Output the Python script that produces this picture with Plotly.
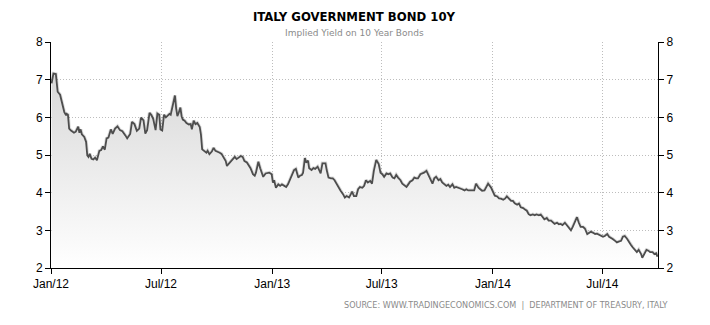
import plotly.graph_objects as go

# ---- data ----
dates = [
    "2012-01-02", "2012-01-05", "2012-01-09", "2012-01-12", "2012-01-16", "2012-01-19", "2012-01-21",
    "2012-01-23", "2012-01-26", "2012-01-27", "2012-01-29", "2012-01-31", "2012-02-03", "2012-02-08",
    "2012-02-11", "2012-02-15", "2012-02-17", "2012-02-19", "2012-02-21", "2012-02-25", "2012-02-28",
    "2012-03-01", "2012-03-03", "2012-03-05", "2012-03-08", "2012-03-11", "2012-03-14", "2012-03-17",
    "2012-03-21", "2012-03-24", "2012-03-27", "2012-03-30", "2012-04-02", "2012-04-05", "2012-04-09",
    "2012-04-12", "2012-04-16", "2012-04-20", "2012-04-24", "2012-04-28", "2012-05-03", "2012-05-06",
    "2012-05-11", "2012-05-14", "2012-05-18", "2012-05-22", "2012-05-26", "2012-05-29", "2012-06-02",
    "2012-06-05", "2012-06-08", "2012-06-12", "2012-06-15", "2012-06-18", "2012-06-22", "2012-06-25",
    "2012-06-28", "2012-06-30", "2012-07-03", "2012-07-06", "2012-07-09", "2012-07-12", "2012-07-15",
    "2012-07-17", "2012-07-20", "2012-07-24", "2012-07-26", "2012-07-28", "2012-07-30", "2012-08-02",
    "2012-08-04", "2012-08-06", "2012-08-09", "2012-08-12", "2012-08-16", "2012-08-19", "2012-08-21",
    "2012-08-24", "2012-08-27", "2012-08-30", "2012-09-03", "2012-09-05", "2012-09-07", "2012-09-10",
    "2012-09-14", "2012-09-16", "2012-09-19", "2012-09-23", "2012-09-26", "2012-09-29", "2012-10-03",
    "2012-10-06", "2012-10-09", "2012-10-12", "2012-10-16", "2012-10-18", "2012-10-21", "2012-10-25",
    "2012-10-28", "2012-10-31", "2012-11-03", "2012-11-07", "2012-11-10", "2012-11-13", "2012-11-16",
    "2012-11-20", "2012-11-23", "2012-11-26", "2012-11-30", "2012-12-03", "2012-12-05", "2012-12-09",
    "2012-12-12", "2012-12-15", "2012-12-17", "2012-12-21", "2012-12-24", "2012-12-27", "2012-12-31",
    "2013-01-02", "2013-01-04", "2013-01-07", "2013-01-11", "2013-01-14", "2013-01-17", "2013-01-21",
    "2013-01-24", "2013-01-27", "2013-01-31", "2013-02-03", "2013-02-06", "2013-02-09", "2013-02-13",
    "2013-02-16", "2013-02-19", "2013-02-21", "2013-02-24", "2013-02-26", "2013-03-01", "2013-03-03",
    "2013-03-07", "2013-03-10", "2013-03-13", "2013-03-17", "2013-03-19", "2013-03-22", "2013-03-25",
    "2013-03-30", "2013-04-01", "2013-04-04", "2013-04-08", "2013-04-11", "2013-04-14", "2013-04-18",
    "2013-04-21", "2013-04-24", "2013-04-28", "2013-05-01", "2013-05-04", "2013-05-08", "2013-05-11",
    "2013-05-13", "2013-05-16", "2013-05-20", "2013-05-23", "2013-05-26", "2013-05-30", "2013-06-02",
    "2013-06-05", "2013-06-08", "2013-06-12", "2013-06-15", "2013-06-18", "2013-06-22", "2013-06-26",
    "2013-06-29", "2013-07-02", "2013-07-05", "2013-07-09", "2013-07-12", "2013-07-15", "2013-07-19",
    "2013-07-22", "2013-07-25", "2013-07-28", "2013-08-01", "2013-08-04", "2013-08-07", "2013-08-11",
    "2013-08-14", "2013-08-17", "2013-08-21", "2013-08-24", "2013-08-27", "2013-08-30", "2013-09-03",
    "2013-09-06", "2013-09-09", "2013-09-13", "2013-09-16", "2013-09-19", "2013-09-23", "2013-09-26",
    "2013-09-29", "2013-10-03", "2013-10-06", "2013-10-09", "2013-10-12", "2013-10-16", "2013-10-19",
    "2013-10-22", "2013-10-26", "2013-10-29", "2013-11-01", "2013-11-05", "2013-11-08", "2013-11-11",
    "2013-11-15", "2013-11-18", "2013-11-21", "2013-11-24", "2013-11-28", "2013-12-01", "2013-12-04",
    "2013-12-08", "2013-12-11", "2013-12-14", "2013-12-18", "2013-12-21", "2013-12-24", "2013-12-29",
    "2014-01-01", "2014-01-04", "2014-01-08", "2014-01-11", "2014-01-14", "2014-01-18", "2014-01-21",
    "2014-01-24", "2014-01-27", "2014-01-31", "2014-02-03", "2014-02-06", "2014-02-10", "2014-02-13",
    "2014-02-16", "2014-02-20", "2014-02-23", "2014-02-26", "2014-03-01", "2014-03-04", "2014-03-08",
    "2014-03-11", "2014-03-14", "2014-03-18", "2014-03-21", "2014-03-24", "2014-03-27", "2014-03-31",
    "2014-04-03", "2014-04-07", "2014-04-10", "2014-04-13", "2014-04-17", "2014-04-20", "2014-04-23",
    "2014-04-26", "2014-04-30", "2014-05-03", "2014-05-07", "2014-05-10", "2014-05-13", "2014-05-17",
    "2014-05-20", "2014-05-23", "2014-05-26", "2014-05-30", "2014-06-02", "2014-06-06", "2014-06-09",
    "2014-06-12", "2014-06-15", "2014-06-19", "2014-06-22", "2014-06-25", "2014-06-28", "2014-07-02",
    "2014-07-05", "2014-07-09", "2014-07-12", "2014-07-15", "2014-07-18", "2014-07-22", "2014-07-25",
    "2014-07-28", "2014-08-01", "2014-08-04", "2014-08-07", "2014-08-11", "2014-08-14", "2014-08-17",
    "2014-08-20", "2014-08-24", "2014-08-27", "2014-08-30", "2014-09-03", "2014-09-05", "2014-09-08",
    "2014-09-12", "2014-09-15", "2014-09-18", "2014-09-22", "2014-09-25", "2014-09-28", "2014-09-30",
]
yields = [
    6.90, 7.16, 7.15, 6.68, 6.60, 6.41, 6.23,
    6.14, 6.05, 6.09, 6.07, 5.70, 5.65, 5.59,
    5.62, 5.75, 5.59, 5.68, 5.55, 5.48, 5.35,
    4.99, 4.95, 5.03, 4.90, 4.88, 4.93, 4.86,
    5.11, 5.13, 5.23, 5.14, 5.44, 5.46, 5.68,
    5.56, 5.70, 5.76, 5.66, 5.63, 5.52, 5.44,
    5.56, 5.88, 5.82, 5.64, 5.70, 5.99, 5.92,
    5.57, 5.66, 6.12, 6.06, 5.96, 5.66, 6.10,
    6.07, 5.68, 5.65, 6.07, 6.00, 6.05, 6.09,
    6.07, 6.26, 6.58, 6.24, 6.03, 6.11, 6.26,
    6.03, 5.94, 5.91, 5.85, 5.81, 5.82, 5.68,
    5.91, 5.82, 5.85, 5.74, 5.54, 5.15, 5.11,
    5.06, 5.11, 5.02, 5.09, 5.19, 5.11, 5.09,
    5.06, 5.03, 4.93, 4.84, 4.71, 4.76, 4.84,
    4.89, 4.95, 4.89, 4.95, 4.97, 4.95, 4.84,
    4.80, 4.74, 4.65, 4.49, 4.45, 4.53, 4.82,
    4.65, 4.53, 4.42, 4.51, 4.53, 4.53, 4.49,
    4.27, 4.33, 4.13, 4.22, 4.18, 4.22, 4.18,
    4.15, 4.22, 4.38, 4.53, 4.60, 4.63, 4.40,
    4.45, 4.47, 4.53, 4.92, 4.80, 4.85, 4.65,
    4.60, 4.65, 4.63, 4.69, 4.60, 4.51, 4.78,
    4.78, 4.60, 4.40, 4.38, 4.38, 4.33, 4.21,
    4.12, 4.05, 3.96, 3.87, 3.91, 3.87, 3.96,
    4.03, 3.91, 3.91, 4.09, 4.15, 4.13, 4.18,
    4.33, 4.27, 4.31, 4.24, 4.58, 4.87, 4.76,
    4.53, 4.49, 4.42, 4.51, 4.49, 4.51, 4.40,
    4.38, 4.47, 4.40, 4.33, 4.24, 4.21, 4.15,
    4.22, 4.29, 4.33, 4.40, 4.38, 4.38, 4.49,
    4.51, 4.53, 4.58, 4.49, 4.36, 4.24, 4.38,
    4.42, 4.33, 4.36, 4.27, 4.22, 4.18, 4.21,
    4.15, 4.22, 4.13, 4.15, 4.13, 4.12, 4.09,
    4.06, 4.09, 4.06, 4.06, 4.05, 4.06, 4.24,
    4.13, 4.09, 4.05, 4.06, 4.15, 4.24, 4.13,
    4.03, 3.92, 3.90, 3.85, 3.84, 3.81, 3.84,
    3.90, 3.85, 3.78, 3.78, 3.72, 3.68, 3.71,
    3.61, 3.59, 3.55, 3.52, 3.43, 3.40, 3.42,
    3.40, 3.42, 3.40, 3.42, 3.35, 3.29, 3.33,
    3.26, 3.26, 3.20, 3.17, 3.20, 3.16, 3.17,
    3.14, 3.20, 3.14, 3.07, 3.00, 3.09, 3.24,
    3.35, 3.20, 3.09, 3.09, 3.05, 2.90, 2.94,
    2.96, 2.94, 2.90, 2.91, 2.88, 2.85, 2.83,
    2.85, 2.90, 2.83, 2.81, 2.77, 2.72, 2.68,
    2.70, 2.72, 2.83, 2.85, 2.77, 2.68, 2.62,
    2.55, 2.46, 2.42, 2.48, 2.37, 2.27, 2.37,
    2.48, 2.46, 2.42, 2.42, 2.37, 2.39, 2.30,
]

tick_dates = ["2012-01-01", "2012-07-01", "2013-01-01", "2013-07-01", "2014-01-01", "2014-07-01"]
tick_labels = ["Jan/12", "Jul/12", "Jan/13", "Jul/13", "Jan/14", "Jul/14"]
y_ticks = [2, 3, 4, 5, 6, 7, 8]

title_text = "ITALY GOVERNMENT BOND 10Y"
subtitle_text = "Implied Yield on 10 Year Bonds"
source_text = "SOURCE: WWW.TRADINGECONOMICS.COM  |  DEPARTMENT OF TREASURY, ITALY"

x_range = ["2012-01-01", "2014-10-01"]
y_range = [2, 8]

# ---- figure ----
fig = go.Figure()

fig.add_trace(go.Scatter(
    x=dates, y=yields, mode="lines",
    line=dict(color="rgba(0,0,0,0.14)", width=3.6),
    hoverinfo="skip", showlegend=False,
))
fig.add_trace(go.Scatter(
    x=dates, y=yields, mode="lines",
    line=dict(color="#4d4d4d", width=1.8),
    fill="tozeroy",
    fillgradient=dict(type="vertical",
                      colorscale=[[0, "#ffffff"], [1, "#d8d8d8"]],
                      start=2, stop=7.2),
    showlegend=False,
))
# invisible trace to carry the right-hand axis
fig.add_trace(go.Scatter(
    x=dates, y=yields, yaxis="y2", mode="lines",
    line=dict(width=0, color="rgba(0,0,0,0)"),
    hoverinfo="skip", showlegend=False,
))

tick_font = dict(family="Liberation Sans, Arial, sans-serif", size=12, color="#000000")
grid_dash = "1px,2px"

fig.update_layout(
    width=710, height=325,
    margin=dict(l=51, r=52, t=42, b=57),
    paper_bgcolor="white", plot_bgcolor="white",
    showlegend=False,
    xaxis=dict(
        type="date", range=x_range,
        tickvals=tick_dates, ticktext=tick_labels,
        showline=True, linecolor="black", linewidth=1,
        ticks="outside", ticklen=5, tickcolor="black",
        showgrid=True, gridcolor="#bdbdbd", griddash=grid_dash, gridwidth=1,
        zeroline=False, tickfont=tick_font,
    ),
    yaxis=dict(
        range=y_range, tickvals=y_ticks,
        showline=True, linecolor="black", linewidth=1,
        ticks="outside", ticklen=5, tickcolor="black",
        showgrid=True, gridcolor="#bdbdbd", griddash=grid_dash, gridwidth=1,
        zeroline=False, tickfont=tick_font,
    ),
    yaxis2=dict(
        range=y_range, tickvals=y_ticks, overlaying="y", side="right",
        showline=True, linecolor="black", linewidth=1,
        ticks="outside", ticklen=5, tickcolor="black",
        showgrid=False, zeroline=False, tickfont=tick_font,
    ),
    annotations=[
        dict(text="<b>" + title_text + "</b>", xref="paper", yref="paper",
             x=0.5, y=1.111, xanchor="center", yanchor="middle", showarrow=False,
             font=dict(family="Liberation Sans Narrow, DejaVu Sans Condensed, sans-serif",
                       size=13, color="#000000")),
        dict(text=subtitle_text, xref="paper", yref="paper",
             x=0.5, y=1.040, xanchor="center", yanchor="middle", showarrow=False,
             font=dict(family="DejaVu Sans, sans-serif", size=9, color="#8a8a8a")),
        dict(text=source_text, xref="paper", yref="paper",
             x=1.019, y=-0.165, xanchor="right", yanchor="middle", showarrow=False,
             font=dict(family="Liberation Sans Narrow, DejaVu Sans Condensed, sans-serif",
                       size=9, color="#8a8a8a")),
    ],
)

fig.write_html("out.html")
